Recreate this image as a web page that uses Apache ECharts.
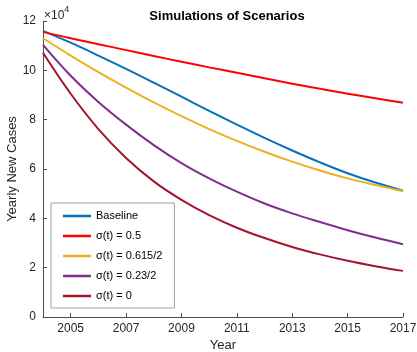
<!DOCTYPE html>
<html>
<head>
<meta charset="utf-8">
<script src="https://cdn.jsdelivr.net/npm/echarts@6/dist/echarts.min.js"></script>
<style>
  html, body { margin: 0; padding: 0; background: #fff; }
  #chart { width: 417px; height: 352px; }
</style>
</head>
<body>
<div id="chart"></div>
<script>
// Years simulated
const years = ['2004', '2005', '2006', '2007', '2008', '2009', '2010',
               '2011', '2012', '2013', '2014', '2015', '2016', '2017'];

// Yearly new cases under each scenario
const baseline   = [116000, 111200, 106000, 100600, 95000, 89300, 83600, 78000, 72600, 67500, 62700, 58300, 54500, 51200];
const sigmaHalf  = [115600, 113000, 110600, 108200, 105800, 103500, 101200, 99000, 96800, 94600, 92500, 90500, 88700, 86900];
const sigma615   = [113000, 106000, 99300, 93000, 87000, 81400, 76200, 71400, 67000, 63000, 59400, 56200, 53500, 51000];
const sigma23    = [110300, 97800, 87200, 78000, 69700, 62400, 56200, 50800, 46000, 42000, 38500, 35200, 32200, 29500];
const sigmaZero  = [107100, 90500, 76200, 64500, 55000, 47500, 41300, 36200, 32000, 28400, 25400, 22800, 20600, 18700];

// Series names shown in the legend
const seriesNames = ['Baseline', 'σ(t) = 0.5', 'σ(t) = 0.615/2', 'σ(t) = 0.23/2', 'σ(t) = 0'];
const seriesData = [baseline, sigmaHalf, sigma615, sigma23, sigmaZero];
const seriesColors = ['#0072BD', '#FF0000', '#EDB120', '#7E2F8E', '#A2142F'];

// Y axis range and step (in cases)
const yMin = 0, yMax = 120000, yStep = 20000;

const font = 'Liberation Sans, Arial, Helvetica, sans-serif';
const axisColor = '#4d4d4d';
const textColor = '#262626';

const oddYear = (idx, val) => Number(val) % 2 === 1;

const chart = echarts.init(document.getElementById('chart'), null, { renderer: 'canvas' });

chart.setOption({
  animation: false,
  backgroundColor: '#fff',
  title: {
    text: 'Simulations of Scenarios',
    left: 222,
    textAlign: 'center',
    top: 5,
    textStyle: { fontFamily: font, fontSize: 13, fontWeight: 'bold', color: '#000' }
  },
  grid: { left: 43, right: 14, top: 21, bottom: 35, containLabel: false, outerBoundsMode: 'none' },
  xAxis: {
    type: 'category',
    data: years,
    boundaryGap: false,
    name: 'Year',
    nameLocation: 'middle',
    nameGap: 22,
    nameMoveOverlap: false,
    nameTextStyle: { fontFamily: font, fontSize: 13, color: textColor },
    axisLine: { show: true, lineStyle: { color: axisColor, width: 1 } },
    axisTick: { show: true, inside: true, length: 4, interval: oddYear, lineStyle: { color: axisColor } },
    axisLabel: { interval: oddYear, fontFamily: font, fontSize: 12, color: textColor, margin: 6 },
    splitLine: { show: false }
  },
  yAxis: {
    type: 'value',
    min: yMin,
    max: yMax,
    interval: yStep,
    name: 'Yearly New Cases',
    nameLocation: 'middle',
    nameGap: 24,
    nameMoveOverlap: false,
    nameTextStyle: { fontFamily: font, fontSize: 13, color: textColor },
    axisLine: { show: true, lineStyle: { color: axisColor, width: 1 } },
    axisTick: { show: true, inside: true, length: 4, lineStyle: { color: axisColor } },
    axisLabel: {
      fontFamily: font, fontSize: 12, color: textColor, margin: 7,
      formatter: v => String(v / 10000)
    },
    splitLine: { show: false }
  },
  legend: {
    orient: 'vertical',
    left: 51,
    top: 203,
    icon: 'rect',
    itemWidth: 28,
    itemHeight: 2.5,
    itemGap: 6,
    padding: [6, 12, 5, 12],
    borderColor: '#a0a0a0',
    borderWidth: 1,
    backgroundColor: '#fff',
    textStyle: { fontFamily: font, fontSize: 11, color: '#000', lineHeight: 14 },
    data: seriesNames
  },
  graphic: [{
    type: 'text',
    left: 44,
    top: 5,
    style: {
      text: '{b|×10}{s|4}',
      rich: {
        b: { fontFamily: font, fontSize: 12, fill: textColor, padding: [5, 0, 0, 0] },
        s: { fontFamily: font, fontSize: 9, fill: textColor, verticalAlign: 'top', padding: [0, 0, 7, 0] }
      }
    }
  }],
  series: seriesNames.map((name, i) => ({
    name,
    type: 'line',
    data: seriesData[i],
    smooth: 0.4,
    showSymbol: false,
    symbol: 'none',
    lineStyle: { color: seriesColors[i], width: 2 },
    itemStyle: { color: seriesColors[i] }
  }))
});
</script>
</body>
</html>
